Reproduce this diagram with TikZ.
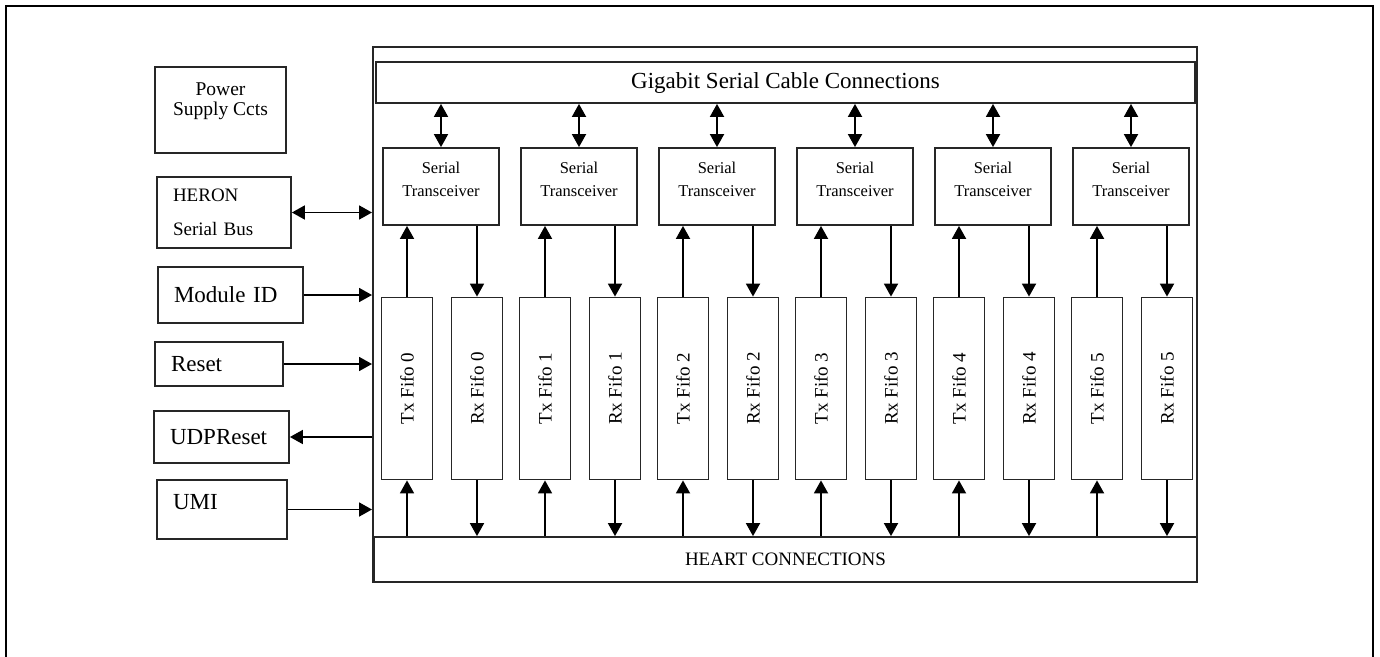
\documentclass[tikz,border=0pt]{standalone}
\usepackage{fontspec}
\setmainfont{Liberation Serif}
\usetikzlibrary{shapes.geometric, arrows.meta}
\tikzstyle{box} = [rectangle, draw=black!85, line width=1.8pt, inner sep=0pt]
\tikzstyle{serial} = [box, minimum width=116pt, minimum height=77pt, align=center, font=\fontsize{16.5}{23}\selectfont]
\tikzstyle{fifo} = [box, minimum width=51pt, minimum height=182pt, font=\fontsize{19}{22}\selectfont]
\tikzstyle{side} = [box, align=left, inner xsep=16pt, font=\fontsize{23}{26}\selectfont]
\tikzstyle{bar} = [box, font=\fontsize{19}{22}\selectfont]
\tikzstyle{arrow} = [line width=1.8pt, -{Triangle[length=13pt,width=14pt]}]
\tikzstyle{dblarrow} = [line width=1.8pt, {Triangle[length=13pt,width=14pt]}-{Triangle[length=13pt,width=14pt]}]

\begin{document}
\begin{tikzpicture}[x=1pt, y=-1pt, node distance=138pt]
    \useasboundingbox (0,0) rectangle (1380,656);
    \draw [line width=2.8pt] (6,662) -- (6,6) -- (1373,6) -- (1373,662);
    % board and bus bars
    \node (board) [box, line width=2pt, minimum width=824pt, minimum height=535pt] at (785,314.5) {};
    \node (gig) [box, minimum width=819pt, minimum height=41pt, font=\fontsize{23}{26}\selectfont] at (785.5,82.5) {Gigabit Serial Cable Connections};
    \node (heart) [bar, minimum width=823pt, minimum height=45pt] at (785.5,559.5) {HEART CONNECTIONS};
    % serial transceivers
    \node (ser0) [serial] at (441,186.5) {Serial\\Transceiver\\[-9pt]\mbox{}};
    \node (ser1) [serial, right of=ser0] {Serial\\Transceiver\\[-9pt]\mbox{}};
    \node (ser2) [serial, right of=ser1] {Serial\\Transceiver\\[-9pt]\mbox{}};
    \node (ser3) [serial, right of=ser2] {Serial\\Transceiver\\[-9pt]\mbox{}};
    \node (ser4) [serial, right of=ser3] {Serial\\Transceiver\\[-9pt]\mbox{}};
    \node (ser5) [serial, right of=ser4] {Serial\\Transceiver\\[-9pt]\mbox{}};
    % fifos
    \node (tx0) [fifo, below of=ser0, node distance=202pt, xshift=-34] {\rotatebox{90}{Tx Fifo 0}};
    \node (rx0) [fifo, below of=ser0, node distance=202pt, xshift=36] {\rotatebox{90}{Rx Fifo 0}};
    \node (tx1) [fifo, below of=ser1, node distance=202pt, xshift=-34] {\rotatebox{90}{Tx Fifo 1}};
    \node (rx1) [fifo, below of=ser1, node distance=202pt, xshift=36] {\rotatebox{90}{Rx Fifo 1}};
    \node (tx2) [fifo, below of=ser2, node distance=202pt, xshift=-34] {\rotatebox{90}{Tx Fifo 2}};
    \node (rx2) [fifo, below of=ser2, node distance=202pt, xshift=36] {\rotatebox{90}{Rx Fifo 2}};
    \node (tx3) [fifo, below of=ser3, node distance=202pt, xshift=-34] {\rotatebox{90}{Tx Fifo 3}};
    \node (rx3) [fifo, below of=ser3, node distance=202pt, xshift=36] {\rotatebox{90}{Rx Fifo 3}};
    \node (tx4) [fifo, below of=ser4, node distance=202pt, xshift=-34] {\rotatebox{90}{Tx Fifo 4}};
    \node (rx4) [fifo, below of=ser4, node distance=202pt, xshift=36] {\rotatebox{90}{Rx Fifo 4}};
    \node (tx5) [fifo, below of=ser5, node distance=202pt, xshift=-34] {\rotatebox{90}{Tx Fifo 5}};
    \node (rx5) [fifo, below of=ser5, node distance=202pt, xshift=36] {\rotatebox{90}{Rx Fifo 5}};
    % left column
    \node (psu) [box, minimum width=131pt, minimum height=86pt, align=center, font=\fontsize{19.5}{20}\selectfont] at (220.5,110) {Power\\Supply Ccts\\[2pt]\mbox{}};
    \node (heron) [side, text width=102pt, minimum height=71pt, font=\fontsize{19}{20}\selectfont] at (224,212.5) {HERON\\[14pt]Serial Bus};
    \node (modid) [side, text width=113pt, minimum height=56pt] at (230.5,295) {Module ID};
    \node (reset) [side, text width=96pt, minimum height=44pt] at (219,364) {Reset};
    \node (udp) [side, text width=103pt, minimum height=52pt] at (221.5,437) {UDPReset};
    \node (umi) [side, text width=98pt, minimum height=59pt] at (222,509.5) {UMI\\[-10pt]\mbox{}};
    \draw [dblarrow] (heron.east) -- (heron.east -| board.west);
    \draw [arrow] (modid.east) -- (modid.east -| board.west);
    \draw [arrow] (reset.east) -- (reset.east -| board.west);
    \draw [arrow] (udp.east -| board.west) -- (udp.east);
    \draw [arrow] (umi.east) -- (umi.east -| board.west);
    % gigabit links
    \draw [dblarrow] (ser0.north |- gig.south) -- (ser0.north);
    \draw [dblarrow] (ser1.north |- gig.south) -- (ser1.north);
    \draw [dblarrow] (ser2.north |- gig.south) -- (ser2.north);
    \draw [dblarrow] (ser3.north |- gig.south) -- (ser3.north);
    \draw [dblarrow] (ser4.north |- gig.south) -- (ser4.north);
    \draw [dblarrow] (ser5.north |- gig.south) -- (ser5.north);
    % fifo to transceiver
    \draw [arrow] (tx0.north) -- (tx0.north |- ser0.south);
    \draw [arrow] (ser0.south -| rx0.north) -- (rx0.north);
    \draw [arrow] (tx1.north) -- (tx1.north |- ser1.south);
    \draw [arrow] (ser1.south -| rx1.north) -- (rx1.north);
    \draw [arrow] (tx2.north) -- (tx2.north |- ser2.south);
    \draw [arrow] (ser2.south -| rx2.north) -- (rx2.north);
    \draw [arrow] (tx3.north) -- (tx3.north |- ser3.south);
    \draw [arrow] (ser3.south -| rx3.north) -- (rx3.north);
    \draw [arrow] (tx4.north) -- (tx4.north |- ser4.south);
    \draw [arrow] (ser4.south -| rx4.north) -- (rx4.north);
    \draw [arrow] (tx5.north) -- (tx5.north |- ser5.south);
    \draw [arrow] (ser5.south -| rx5.north) -- (rx5.north);
    % heart to fifo
    \draw [arrow] (tx0.south |- heart.north) -- (tx0.south);
    \draw [arrow] (rx0.south) -- (rx0.south |- heart.north);
    \draw [arrow] (tx1.south |- heart.north) -- (tx1.south);
    \draw [arrow] (rx1.south) -- (rx1.south |- heart.north);
    \draw [arrow] (tx2.south |- heart.north) -- (tx2.south);
    \draw [arrow] (rx2.south) -- (rx2.south |- heart.north);
    \draw [arrow] (tx3.south |- heart.north) -- (tx3.south);
    \draw [arrow] (rx3.south) -- (rx3.south |- heart.north);
    \draw [arrow] (tx4.south |- heart.north) -- (tx4.south);
    \draw [arrow] (rx4.south) -- (rx4.south |- heart.north);
    \draw [arrow] (tx5.south |- heart.north) -- (tx5.south);
    \draw [arrow] (rx5.south) -- (rx5.south |- heart.north);
\end{tikzpicture}
\end{document}
